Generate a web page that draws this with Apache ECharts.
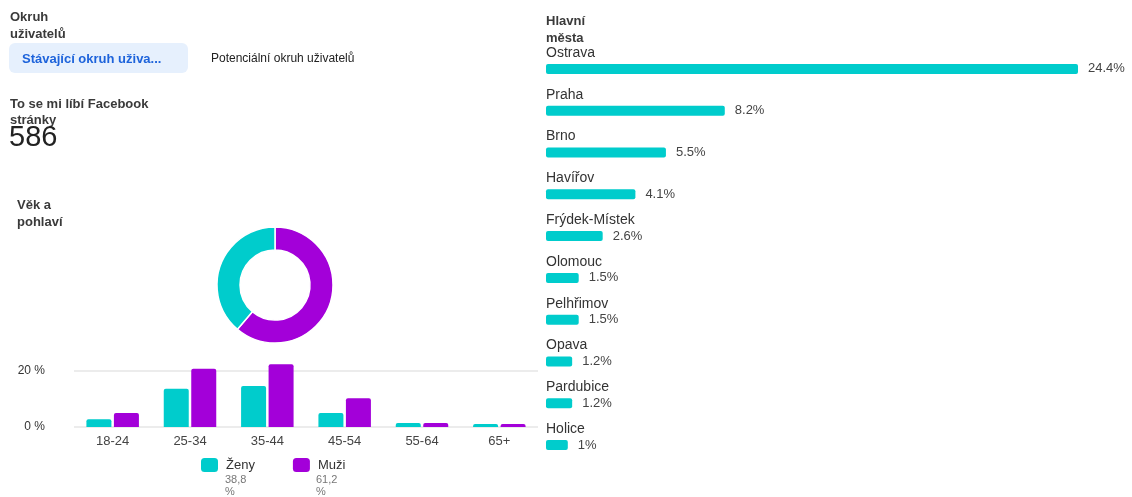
<!DOCTYPE html>
<html>
<head>
<meta charset="utf-8">
<script src="https://cdn.jsdelivr.net/npm/echarts@6/dist/echarts.min.js"></script>
<style>
html,body{margin:0;padding:0;background:#fff;}
#c{width:1132px;height:497px;}
</style>
</head>
<body>
<div id="c"></div>
<script>
// ---- data ----
const ageCategories = ['18-24', '25-34', '35-44', '45-54', '55-64', '65+'];
const zenyValues = [2.8, 13.7, 14.6, 5.0, 1.4, 1.1];
const muziValues = [5.0, 20.8, 22.4, 10.3, 1.4, 1.1];
const genderNames = ['Muži', 'Ženy'];
const genderShares = [61.2, 38.8];
const cityNames = ['Ostrava', 'Praha', 'Brno', 'Havířov', 'Frýdek-Místek', 'Olomouc', 'Pelhřimov', 'Opava', 'Pardubice', 'Holice'];
const cityValues = [24.4, 8.2, 5.5, 4.1, 2.6, 1.5, 1.5, 1.2, 1.2, 1];
const likesCount = '586';

const TEAL = '#00CCCC';
const PURPLE = '#A300D9';
const FONT = 'Arial, "Liberation Sans", Helvetica, sans-serif';
const TXT = '#3a3a3a';

const chart = echarts.init(document.getElementById('c'));

function txt(x, y, text, font, fill) {
  return {
    type: 'text', x: x, y: y,
    style: {text: text, font: font, fill: fill || TXT, verticalAlign: 'middle', align: 'left'}
  };
}
const boldF = 'bold 13px ' + FONT;
const shareText = n => String(genderShares[genderNames.indexOf(n)]).replace('.', ',');

const option = {
  animation: false,
  textStyle: {fontFamily: FONT},
  color: [TEAL, PURPLE],
  legend: {
    data: ['Ženy', 'Muži'],
    left: 201, top: 458, padding: 0,
    itemWidth: 17, itemHeight: 14, itemGap: 38,
    icon: 'roundRect',
    textStyle: {fontSize: 13, color: '#333', fontFamily: FONT, padding: [0, 0, 0, 3]},
    selectedMode: false
  },
  grid: [
    {left: 74, width: 464, top: 371, height: 56},
    {left: 546, width: 532, top: 48, height: 418}
  ],
  xAxis: [
    {
      gridIndex: 0, type: 'category', data: ageCategories,
      axisLine: {show: false}, axisTick: {show: false},
      axisLabel: {fontSize: 13, color: '#444', margin: 8}
    },
    {
      gridIndex: 1, type: 'value', min: 0, max: 'dataMax', show: false
    }
  ],
  yAxis: [
    {
      gridIndex: 0, type: 'value', min: 0, max: 20, interval: 20,
      axisLine: {show: false}, axisTick: {show: false},
      axisLabel: {formatter: '{value} %', fontSize: 12, color: '#333', margin: 29},
      splitLine: {lineStyle: {color: '#e6e6e6', width: 1.5}}
    },
    {
      gridIndex: 1, type: 'category', data: cityNames, inverse: true,
      axisLine: {show: false}, axisTick: {show: false}, splitLine: {show: false},
      axisLabel: {show: false}
    }
  ],
  series: [
    {
      name: 'Ženy', type: 'bar', xAxisIndex: 0, yAxisIndex: 0,
      data: zenyValues, barWidth: 25, barGap: '10%', clip: false,
      itemStyle: {color: TEAL, borderRadius: [2, 2, 0, 0]}
    },
    {
      name: 'Muži', type: 'bar', xAxisIndex: 0, yAxisIndex: 0,
      data: muziValues, barWidth: 25, barGap: '10%', clip: false,
      itemStyle: {color: PURPLE, borderRadius: [2, 2, 0, 0]}
    },
    {
      name: 'Města', type: 'bar', xAxisIndex: 1, yAxisIndex: 1,
      data: cityValues, barWidth: 10,
      itemStyle: {color: TEAL, borderRadius: 2},
      label: {show: true, position: [0, -11], align: 'left', verticalAlign: 'middle',
        formatter: '{b}', fontSize: 14, color: '#333'}
    },
    {
      name: 'Města hodnoty', type: 'bar', xAxisIndex: 1, yAxisIndex: 1,
      data: cityValues, barWidth: 10, barGap: '-100%',
      itemStyle: {color: 'rgba(0,0,0,0)'},
      label: {show: true, position: 'right', distance: 10, formatter: '{c}%', fontSize: 13, color: '#444'}
    },
    {
      name: 'Pohlaví', type: 'pie', center: [275, 285], radius: [35, 58],
      startAngle: 90, clockwise: true,
      label: {show: false}, labelLine: {show: false},
      itemStyle: {borderColor: '#fff', borderWidth: 1.5},
      data: genderNames.map((n, i) => ({name: n, value: genderShares[i], itemStyle: {color: n === 'Ženy' ? TEAL : PURPLE}}))
    }
  ],
  graphic: [
    txt(10, 17, 'Okruh', boldF),
    txt(10, 34, 'uživatelů', boldF),
    {type: 'rect', shape: {x: 9, y: 43, width: 179, height: 30, r: 6}, style: {fill: '#E6F0FD'}},
    txt(22, 59, 'Stávající okruh uživa...', 'bold 13px ' + FONT, '#1D63DB'),
    txt(211, 59, 'Potenciální okruh uživatelů', '12px ' + FONT, '#222'),
    txt(10, 104, 'To se mi líbí Facebook', boldF),
    txt(10, 120, 'stránky', boldF),
    txt(9, 138, likesCount, '29px ' + FONT, '#222'),
    txt(17, 205, 'Věk a', boldF),
    txt(17, 222, 'pohlaví', boldF),
    txt(546, 21, 'Hlavní', boldF),
    txt(546, 38, 'města', boldF),
    txt(225, 480, shareText('Ženy'), '11px ' + FONT, '#777'),
    txt(225, 492, '%', '11px ' + FONT, '#777'),
    txt(316, 480, shareText('Muži'), '11px ' + FONT, '#777'),
    txt(316, 492, '%', '11px ' + FONT, '#777')
  ]
};
chart.setOption(option);
</script>
</body>
</html>
